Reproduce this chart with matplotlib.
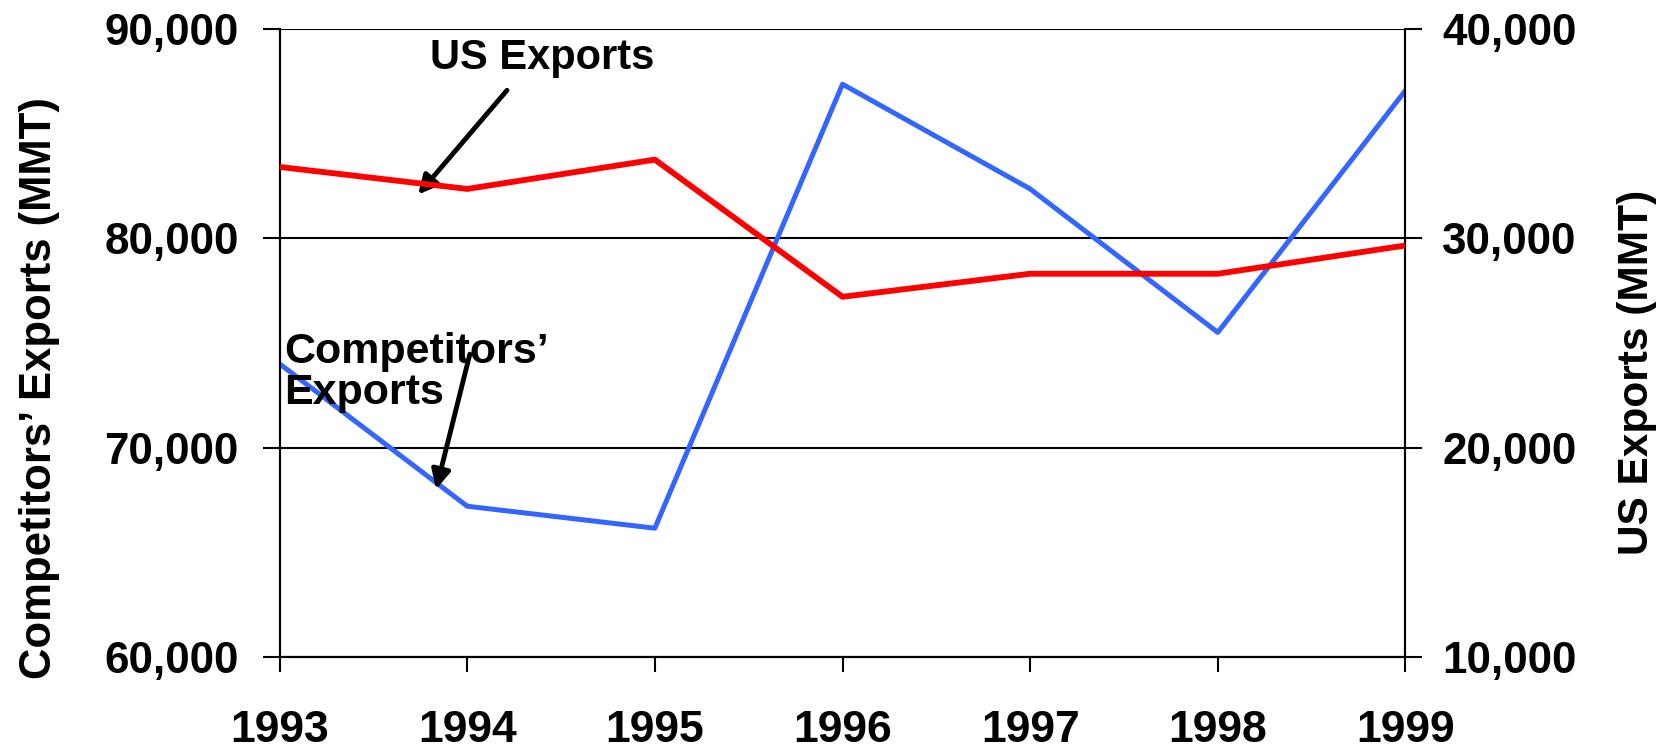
import matplotlib
matplotlib.use("Agg")
import matplotlib.pyplot as plt
from matplotlib.ticker import FuncFormatter

plt.rcParams['font.family'] = ['Liberation Sans', 'DejaVu Sans']
plt.rcParams['font.weight'] = 'bold'

years = [1993, 1994, 1995, 1996, 1997, 1998, 1999]
competitors_exports = [74000, 67200, 66150, 87350, 82350, 75500, 87050]
us_exports = [33400, 32350, 33750, 27200, 28300, 28300, 29650]
left_ticks = [60000, 70000, 80000, 90000]
right_ticks = [10000, 20000, 30000, 40000]

fig = plt.figure(figsize=(16.67, 7.5), dpi=100)
ax = fig.add_axes([0.1677, 0.124, 0.8431 - 0.1677, 0.9617 - 0.124])
ax2 = ax.twinx()

fmt = FuncFormatter(lambda v, p: f"{int(v):,}")

ax.plot(years, competitors_exports, color='#3366FF', lw=3.6, zorder=3)
ax2.plot(years, us_exports, color='#FF0000', lw=4.2, zorder=3)

ax.set_xlim(years[0], years[-1])
ax.set_ylim(left_ticks[0], left_ticks[-1])
ax2.set_ylim(right_ticks[0], right_ticks[-1])
ax.set_yticks(left_ticks)
ax2.set_yticks(right_ticks)
ax.set_xticks(years)
ax.yaxis.set_major_formatter(fmt)
ax2.yaxis.set_major_formatter(fmt)

ax.grid(axis='y', color='black', lw=1.5, zorder=1)
ax.set_axisbelow(True)

for a in (ax, ax2):
    a.spines['top'].set_visible(False)
    for s in ('left', 'right', 'bottom'):
        a.spines[s].set_linewidth(1.5)

ax.tick_params(axis='y', direction='out', length=12, width=1.5, pad=17.5, labelsize=31.7)
ax2.tick_params(axis='y', direction='out', length=12, width=1.5, pad=14.6, labelsize=31.7)
ax.tick_params(axis='x', direction='out', length=11, width=1.5, pad=27.5, labelsize=32)
for lab in ax.get_xticklabels() + ax.get_yticklabels() + ax2.get_yticklabels():
    lab.set_fontweight('bold')

fig.text(0.0235, 0.483, "Competitors\u2019 Exports (MMT)", rotation=90, ha='center', va='center',
         fontsize=31.4, fontweight='bold')
fig.text(0.982, 0.504, "US Exports (MMT)", rotation=90, ha='center', va='center',
         fontsize=30.5, fontweight='bold')

ax.annotate("US Exports", xy=(0.123, 0.736), xycoords='axes fraction',
            xytext=(0.233, 0.953), textcoords='axes fraction',
            ha='center', va='center', fontsize=30, fontweight='bold', zorder=5)
ax.annotate("", xy=(0.123, 0.736), xycoords='axes fraction',
            xytext=(0.202, 0.902), textcoords='axes fraction',
            arrowprops=dict(arrowstyle='-|>', lw=3.5, color='black', mutation_scale=28,
                            shrinkA=0, shrinkB=0), zorder=5)

ax.annotate("Competitors\u2019\nExports", xy=(0.139, 0.267), xycoords='axes fraction',
            xytext=(0.004, 0.453), textcoords='axes fraction',
            ha='left', va='center', fontsize=31, fontweight='bold', linespacing=1.05, zorder=5)
ax.annotate("", xy=(0.139, 0.267), xycoords='axes fraction',
            xytext=(0.169, 0.482), textcoords='axes fraction',
            arrowprops=dict(arrowstyle='-|>', lw=3.5, color='black', mutation_scale=28,
                            shrinkA=0, shrinkB=0), zorder=5)

fig.savefig("out.png", dpi=100)
